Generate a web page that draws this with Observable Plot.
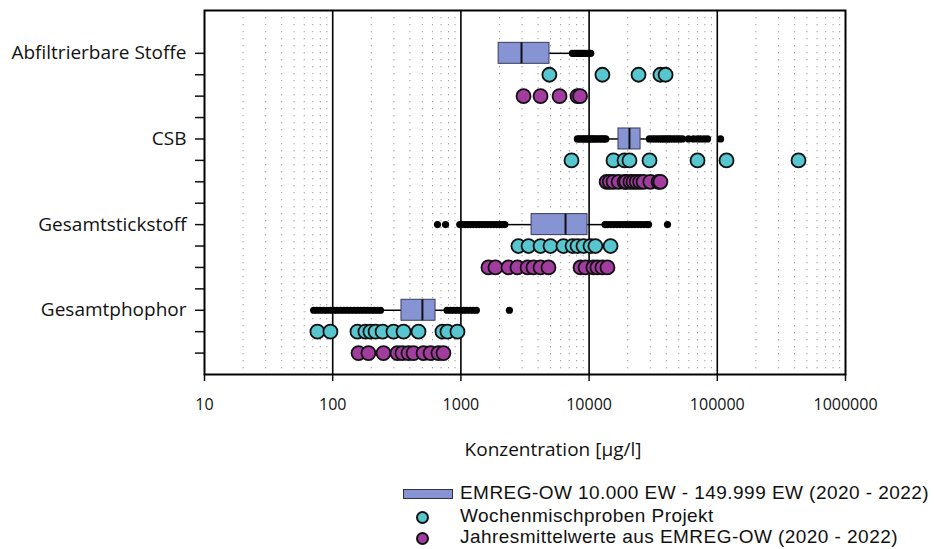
<!DOCTYPE html>
<html>
<head>
<meta charset="utf-8">
<script src="https://cdn.jsdelivr.net/npm/d3@7"></script>
<script src="https://cdn.jsdelivr.net/npm/@observablehq/plot@0.6"></script>
<style>
  body { margin: 0; background: #fff; }
  #wrap { position: relative; width: 934px; }
  #legend { position: relative; width: 934px; height: 79px; font-family: "Liberation Sans", Arial, sans-serif; font-size: 19px; letter-spacing: 0.45px; color: #111; }
  .row { position: absolute; left: 460px; line-height: 20px; white-space: nowrap; }
  .icon { position: absolute; }
</style>
</head>
<body>
<div id="wrap"><div id="chart"></div>
<div id="legend">
  <div class="icon" style="left:403px;top:19px;width:48px;height:8px;background:#8794d3;border:1.5px solid #333;"></div>
  <div class="row" style="top:13px;">EMREG-OW 10.000 EW - 149.999 EW (2020 - 2022)</div>
  <div class="icon" style="left:416px;top:41px;width:9px;height:9px;border-radius:50%;background:#57c6cf;border:2px solid #111;"></div>
  <div class="row" style="top:36px;">Wochenmischproben Projekt</div>
  <div class="icon" style="left:416px;top:62px;width:9px;height:9px;border-radius:50%;background:#a23c9f;border:2px solid #111;"></div>
  <div class="row" style="top:57px;">Jahresmittelwerte aus EMREG-OW (2020 - 2022)</div>
</div>
</div>
<script>
// ---- data ----
const categories = ["Abfiltrierbare Stoffe", "CSB", "Gesamtstickstoff", "Gesamtphophor"];
const xTicks = [10, 100, 1000, 10000, 100000, 1000000];
const majorGrid = [100, 1000, 10000, 100000];

const boxQ1     = [1970, 16950, 3560, 344];
const boxMedian = [2970, 20650, 6550, 501];
const boxQ3     = [4910, 25200, 9720, 634];
const whiskerLow  = [1970, 14300, 2300, 245];
const whiskerHigh = [7200, 28000, 12950, 759];

const outliersAbf = [7400, 7700, 8000, 8300, 8600, 8900, 9200, 9600, 10000, 10300];
const outliersCSB = [8100, 8400, 8700, 9000, 9300, 9600, 9900, 10200, 10500, 10800, 11100, 11500, 11900, 12300, 12700, 13100, 13500,
  29500, 31000, 32500, 34000, 35500, 37000, 38500, 40000, 41500, 43000, 45000, 47000, 49000, 51000, 53500,
  59600, 65200, 70000, 74000, 79000, 83900, 106000];
const outliersGN = [657, 759, 980, 1030, 1080, 1130, 1190, 1250, 1320, 1390, 1460, 1540, 1620, 1710, 1800, 1900, 2000, 2100, 2200,
  13300, 14000, 14800, 15600, 16500, 17400, 18400, 19400, 20500, 21600, 22800, 24100, 25400, 26800, 28300, 29100, 40900];
const outliersGP = [71, 75, 80, 85, 90, 96, 102, 108, 115, 122, 130, 138, 147, 156, 166, 176, 187, 199, 211, 224, 236,
  780, 830, 880, 930, 990, 1050, 1110, 1180, 1250, 1320, 2390];

const projektAbf = [4900, 12700, 24300, 36000, 39500];
const projektCSB = [7290, 15500, 18900, 20650, 29600, 70100, 118000, 430000];
const projektGN  = [2810, 3370, 4180, 5000, 6310, 7430, 8120, 9040, 10250, 11200, 14700];
const projektGP  = [76, 96, 156, 180, 197, 216, 245, 298, 357, 467, 718, 786, 940];

const jahresAbf = [3080, 4180, 5880, 8120, 8500];
const jahresCSB = [13700, 14500, 15500, 17000, 18900, 19500, 21000, 22200, 23500, 25000, 26600, 30000, 34800, 36000];
const jahresGN  = [1640, 1860, 2350, 2760, 3310, 3680, 4180, 4820, 8570, 9380, 10800, 11600, 12700, 13900];
const jahresGP  = [159, 190, 249, 320, 350, 390, 427, 511, 580, 668, 731];

// ---- tables ----
const boxes = categories.map((c, i) => ({
  cat: c, y: i * 4, q1: boxQ1[i], med: boxMedian[i], q3: boxQ3[i], lo: whiskerLow[i], hi: whiskerHigh[i]
}));
const flat = (lists, off) => lists.flatMap((vals, i) => vals.map(v => ({ v, y: i * 4 + off })));
const outliers = flat([outliersAbf, outliersCSB, outliersGN, outliersGP], 0);
const projekt = flat([projektAbf, projektCSB, projektGN, projektGP], 1);
const jahres = flat([jahresAbf, jahresCSB, jahresGN, jahresGP], 2);
const minorGrid = d3.range(1, 6).flatMap(e => d3.range(2, 10).map(m => m * 10 ** e));

const chart = Plot.plot({
  width: 934,
  height: 470,
  marginLeft: 204,
  marginRight: 89,
  marginTop: 10,
  marginBottom: 96,
  style: { fontFamily: "'Open Sans', sans-serif", fontSize: "16px", color: "#111", background: "white" },
  x: { type: "log", domain: [10, 1000000] },
  y: { domain: [-2, 15], reverse: true },
  marks: [
    Plot.ruleX(minorGrid, { stroke: "#9a9a9a", strokeWidth: 1, strokeDasharray: "1.3,5.7" }),
    Plot.ruleX(majorGrid, { stroke: "black", strokeWidth: 1.6 }),
    Plot.ruleY(boxes, { y: "y", x1: "lo", x2: "q1", stroke: "black", strokeWidth: 1.5 }),
    Plot.ruleY(boxes, { y: "y", x1: "q3", x2: "hi", stroke: "black", strokeWidth: 1.5 }),
    Plot.rect(boxes, { x1: "q1", x2: "q3", y1: d => d.y - 0.49, y2: d => d.y + 0.49, fill: "#8794d3", stroke: "#3a3a5a", strokeWidth: 1 }),
    Plot.ruleX(boxes, { x: "med", y1: d => d.y - 0.49, y2: d => d.y + 0.49, stroke: "#111", strokeWidth: 2 }),
    Plot.dot(outliers, { x: "v", y: "y", r: 3.6, fill: "black", stroke: "none" }),
    Plot.dot(projekt, { x: "v", y: "y", r: 7, fill: "#57c6cf", stroke: "#111", strokeWidth: 1.8 }),
    Plot.dot(jahres, { x: "v", y: "y", r: 7, fill: "#a23c9f", stroke: "#111", strokeWidth: 1.8 }),
    Plot.axisX({ ticks: xTicks, tickFormat: d => String(d), tickSize: 7, tickPadding: 17, fontSize: 16, label: null, strokeWidth: 1.5 }),
    Plot.axisY({ ticks: d3.range(0, 15), tickSize: 9, tickPadding: 9, fontSize: 19, label: null, strokeWidth: 1.5,
      tickFormat: d => d % 4 === 0 ? categories[d / 4] : "", style: { letterSpacing: "0.65px" } }),
    Plot.text(["Konzentration [µg/l]"], { frameAnchor: "bottom", dy: 81, dx: 28, fontSize: 19, style: { letterSpacing: "0.7px" } }),
    Plot.frame({ stroke: "black", strokeWidth: 2 })
  ]
});
document.getElementById("chart").appendChild(chart);
</script>
</body>
</html>
